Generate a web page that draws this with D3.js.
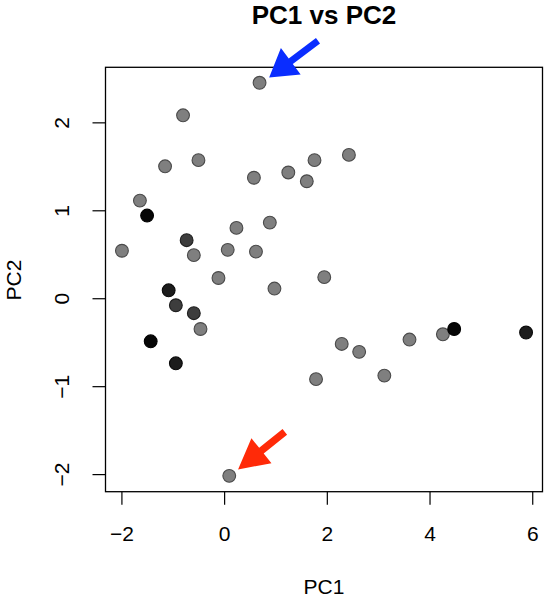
<!DOCTYPE html>
<html><head><meta charset="utf-8">
<script src="https://cdn.jsdelivr.net/npm/d3@7"></script>
<style>
html,body{margin:0;padding:0;background:#fff;}
svg{display:block;font-family:"Liberation Sans",Arial,Helvetica,sans-serif;}
</style></head>
<body><svg id="chart" width="550" height="599"></svg>
<script>
// ---- data ----
const pc1 = [0.69,-0.80,-1.15,-0.50,0.58,1.25,1.61,1.76,2.43,-1.64,
             -1.50,-0.73,-0.59,-1.99,0.24,0.89,0.07,0.62,-0.11,0.98,
             1.95,-1.08,-0.94,-0.59,-0.46,-1.43,-0.94,0.10,1.79,2.29,
             2.63,3.12,3.61,4.26,4.48,5.88];
const pc2 = [2.45,2.08,1.50,1.57,1.37,1.43,1.33,1.57,1.63,1.11,
             0.94,0.66,0.49,0.54,0.80,0.86,0.55,0.53,0.23,0.11,
             0.24,0.09,-0.08,-0.17,-0.35,-0.49,-0.74,-2.02,-0.92,-0.52,
             -0.61,-0.88,-0.47,-0.41,-0.35,-0.39];
// 0 = grey, 1 = dark grey, 2 = near black, 3 = black
const group = [0,0,0,0,0,0,0,0,0,0,
               3,1,0,0,0,0,0,0,0,0,
               0,2,1,1,0,3,2,0,0,0,
               0,0,0,0,3,2];
const xTicks = [-2,0,2,4,6];
const yTicks = [-2,-1,0,1,2];
const highlighted = [0, 27];          // point indices pointed at by arrows
const arrowColors = ["#0a2dff","#ff2a08"];
const title = "PC1 vs PC2", xLabel = "PC1", yLabel = "PC2";

// ---- layout ----
const svg = d3.select("#chart");
const L = 105.5, R = 542.5, T = 67.3, B = 491.7;
const x = d3.scaleLinear().domain([-2.31, 6.20]).range([L, R]);
const y = d3.scaleLinear().domain([-2.20, 2.626]).range([B, T]);
const fills = ["#7f7f7f","#3d3d3d","#1c1c1c","#060606"];
const strokes = ["#4a4a4a","#202020","#0a0a0a","#000000"];

// title
svg.append("text").attr("x", 324).attr("y", 24).attr("text-anchor","middle")
  .attr("font-size", 26).attr("font-weight","bold").attr("fill","#000").text(title);

// axes
const xa = svg.append("g").attr("transform", `translate(0,${B})`)
  .call(d3.axisBottom(x).tickValues(xTicks).tickSize(13).tickSizeOuter(0)
        .tickFormat(d => d < 0 ? "\u2212" + Math.abs(d) : d));
xa.select(".domain").remove();
xa.selectAll("line").attr("stroke","#000").attr("stroke-width",1.2);
xa.selectAll("text").attr("font-size",21).attr("fill","#000")
  .attr("font-family","Liberation Sans, Arial, sans-serif").attr("dy",null).attr("y", 49.3);

const ya = svg.append("g").attr("transform", `translate(${L},0)`)
  .call(d3.axisLeft(y).tickValues(yTicks).tickSize(13).tickSizeOuter(0)
        .tickFormat(d => d < 0 ? "\u2212" + Math.abs(d) : d));
ya.select(".domain").remove();
ya.selectAll("line").attr("stroke","#000").attr("stroke-width",1.2);
ya.selectAll("text").attr("font-size",21).attr("fill","#000")
  .attr("font-family","Liberation Sans, Arial, sans-serif")
  .attr("dy",null).attr("x",null).attr("text-anchor","middle")
  .attr("transform","translate(-36.5,0) rotate(-90)");

// frame
svg.append("rect").attr("x", L).attr("y", T).attr("width", R - L).attr("height", B - T)
  .attr("fill","none").attr("stroke","#000").attr("stroke-width",1.3);

// axis titles
svg.append("text").attr("x", 324).attr("y", 594).attr("text-anchor","middle")
  .attr("font-size",21).attr("fill","#000").text(xLabel);
svg.append("text").attr("transform","translate(20.5,280) rotate(-90)").attr("text-anchor","middle")
  .attr("font-size",21).attr("fill","#000").text(yLabel);

// points
const idx = d3.range(pc1.length).sort((a,b) => group[a] - group[b] || a - b);
svg.append("g").selectAll("circle").data(idx).join("circle")
  .attr("cx", i => x(pc1[i])).attr("cy", i => y(pc2[i])).attr("r", 6.4)
  .attr("fill", i => fills[group[i]]).attr("stroke", i => strokes[group[i]]).attr("stroke-width", 1.1);

// arrows: tip placed up-right of the highlighted point, pointing down-left
function arrowPath(px, py, len, headLen, headHalf, shaftHalf, angDeg) {
  const a = angDeg * Math.PI / 180;
  const ux = Math.cos(a), uy = Math.sin(a);   // tip -> tail direction
  const nx = -uy, ny = ux;
  const bx = px + ux * headLen, by = py + uy * headLen;
  const tx = px + ux * len, ty = py + uy * len;
  const p = [
    [px, py],
    [bx + nx * headHalf, by + ny * headHalf],
    [bx + nx * shaftHalf, by + ny * shaftHalf],
    [tx + nx * shaftHalf, ty + ny * shaftHalf],
    [tx - nx * shaftHalf, ty - ny * shaftHalf],
    [bx - nx * shaftHalf, by - ny * shaftHalf],
    [bx - nx * headHalf, by - ny * headHalf]
  ];
  return "M" + p.map(q => q.join(",")).join("L") + "Z";
}
const arrowSpec = [
  {dx: 9.6, dy: -5.4, len: 61, head: 27, half: 16.5, shaft: 3.4, ang: -36.8},
  {dx: 8.8, dy: -6.4, len: 60, head: 30, half: 16, shaft: 3.6, ang: -38.8}
];
svg.append("g").selectAll("path").data(highlighted).join("path")
  .attr("d", (i, k) => {
    const s = arrowSpec[k];
    return arrowPath(x(pc1[i]) + s.dx, y(pc2[i]) + s.dy, s.len, s.head, s.half, s.shaft, s.ang);
  })
  .attr("fill", (i, k) => arrowColors[k]);
</script></body></html>
